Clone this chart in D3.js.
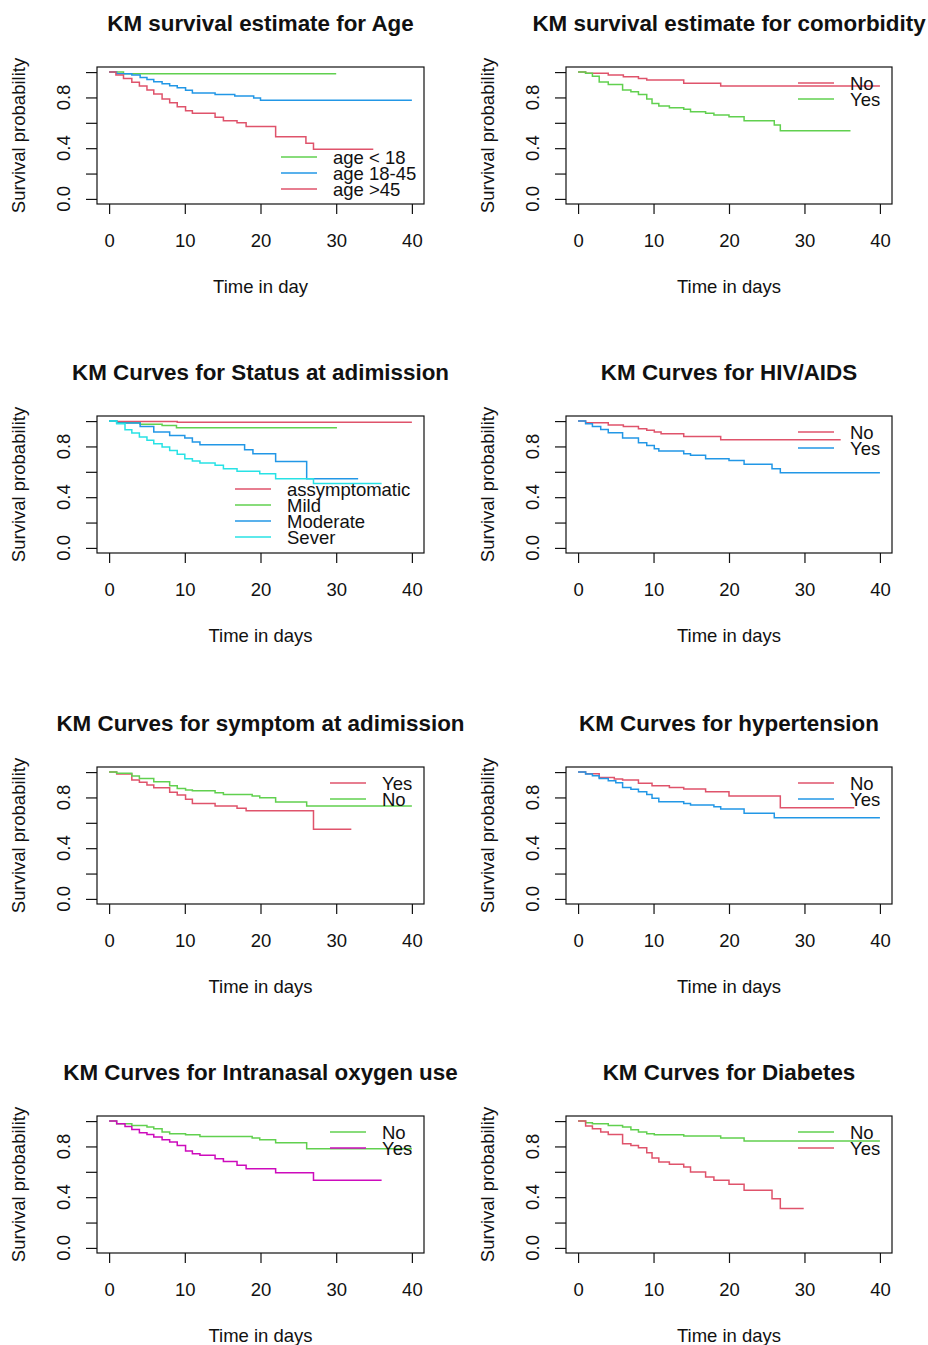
<!DOCTYPE html>
<html>
<head>
<meta charset="utf-8">
<script src="https://cdn.jsdelivr.net/npm/d3@7/dist/d3.min.js"></script>
<style>
body { margin: 0; background: #fff; }
svg { display: block; }
text { font-family: "Liberation Sans", Arial, sans-serif; fill: #111; }
</style>
</head>
<body>
<div id="chart"></div>
<script>
// KM step curves: [time, survival], last point = end of follow-up
var ageUnder18 = [[0,1],[1.9,0.987],[30,0.987]];
var age18to45 = [[0,1],[1.0,0.987],[3.0,0.976],[4.1,0.958],[5.0,0.942],[5.9,0.924],[7.0,0.908],[8.0,0.892],[9.0,0.877],[10.1,0.856],[11.0,0.835],[14.0,0.824],[16.6,0.811],[19.1,0.795],[20.0,0.777],[40,0.777]];
var ageOver45 = [[0,1],[0.9,0.976],[1.9,0.95],[3.0,0.919],[4.0,0.89],[5.0,0.858],[5.9,0.827],[7.0,0.787],[8.0,0.759],[9.0,0.727],[10.1,0.696],[11.0,0.675],[14.0,0.643],[15.1,0.617],[16.9,0.601],[18.1,0.57],[22.0,0.491],[26.0,0.438],[27.0,0.391],[34.9,0.391]];

var comorbNo = [[0,1],[1.0,0.99],[4.0,0.976],[6.0,0.963],[8.0,0.95],[9.1,0.937],[14.0,0.911],[18.9,0.89],[40,0.89]];
var comorbYes = [[0,1],[1.0,0.99],[1.9,0.968],[2.8,0.921],[4.0,0.903],[5.9,0.858],[7.0,0.845],[8.0,0.824],[9.1,0.787],[9.8,0.753],[10.7,0.732],[12.1,0.719],[14.0,0.706],[14.9,0.688],[16.9,0.675],[18.0,0.661],[20.0,0.648],[22.0,0.617],[26.0,0.583],[26.8,0.538],[36.1,0.538]];

var statusAsym = [[0,1],[1.0,0.997],[9.0,0.99],[40,0.99]];
var statusMild = [[0,1],[1.0,0.987],[4.1,0.974],[7.0,0.966],[8.9,0.948],[30.1,0.948]];
var statusModerate = [[0,1],[1.0,0.984],[4.1,0.958],[5.9,0.913],[8.0,0.887],[10.0,0.866],[11.0,0.835],[12.0,0.814],[17.9,0.774],[19.0,0.743],[22.0,0.682],[26.1,0.546],[32.9,0.546]];
var statusSevere = [[0,1],[1.0,0.979],[2.1,0.932],[3.0,0.906],[4.0,0.874],[5.0,0.848],[5.9,0.822],[7.0,0.795],[8.0,0.769],[9.0,0.738],[10.0,0.703],[11.0,0.685],[12.0,0.669],[14.0,0.651],[15.1,0.625],[16.9,0.604],[19.9,0.585],[22.0,0.546],[27.0,0.507],[36.0,0.507]];

var hivNo = [[0,1],[1.0,0.987],[4.0,0.969],[6.0,0.958],[8.0,0.94],[9.1,0.927],[10.1,0.913],[11.0,0.9],[14.0,0.879],[18.9,0.853],[34.8,0.853]];
var hivYes = [[0,1],[1.0,0.979],[1.9,0.958],[3.0,0.934],[4.0,0.908],[5.9,0.866],[8.0,0.829],[9.1,0.808],[10.1,0.782],[10.7,0.764],[14.0,0.743],[14.9,0.73],[16.9,0.703],[20.0,0.69],[22.0,0.659],[25.7,0.625],[26.8,0.593],[40,0.593]];

var symptomYes = [[0,1],[1.0,0.984],[3.0,0.937],[4.0,0.919],[5.0,0.898],[5.9,0.877],[8.0,0.84],[9.0,0.819],[10.1,0.785],[11.0,0.753],[14.0,0.732],[16.9,0.714],[18.1,0.696],[27.0,0.549],[32.0,0.549]];
var symptomNo = [[0,1],[1.0,0.99],[3.0,0.969],[4.0,0.95],[5.9,0.924],[8.0,0.892],[9.0,0.871],[10.1,0.858],[11.0,0.853],[14.0,0.837],[15.1,0.824],[18.9,0.811],[19.9,0.798],[22.0,0.764],[26.1,0.732],[40,0.732]];

var hyperNo = [[0,1],[1.0,0.987],[2.8,0.958],[4.8,0.946],[5.9,0.937],[8.0,0.911],[9.8,0.892],[12.1,0.879],[14.0,0.866],[16.9,0.845],[20.0,0.811],[26.8,0.719],[36.6,0.719]];
var hyperYes = [[0,1],[1.0,0.984],[1.9,0.971],[2.8,0.95],[4.0,0.932],[5.0,0.916],[5.9,0.879],[7.0,0.864],[8.0,0.845],[9.1,0.824],[9.8,0.793],[10.7,0.766],[14.0,0.753],[14.9,0.74],[18.0,0.727],[18.9,0.709],[22.0,0.675],[26.0,0.64],[40,0.64]];

var oxygenNo = [[0,1],[1.0,0.979],[3.0,0.966],[5.0,0.953],[5.9,0.94],[7.0,0.913],[8.0,0.9],[10.1,0.892],[12.0,0.879],[18.9,0.866],[19.9,0.853],[22.0,0.829],[26.1,0.782],[40,0.782]];
var oxygenYes = [[0,1],[1.0,0.979],[2.1,0.958],[3.0,0.934],[4.0,0.908],[5.0,0.895],[5.9,0.874],[7.0,0.853],[8.0,0.835],[9.0,0.808],[10.1,0.764],[11.0,0.743],[12.0,0.73],[14.0,0.703],[15.1,0.682],[16.9,0.651],[18.1,0.625],[22.0,0.593],[27.0,0.533],[36.0,0.533]];

var diabNo = [[0,1],[1.0,0.987],[1.9,0.979],[4.0,0.966],[5.9,0.953],[7.0,0.932],[8.0,0.913],[9.1,0.9],[10.1,0.892],[14.0,0.882],[18.9,0.866],[22.0,0.843],[40,0.843]];
var diabYes = [[0,1],[1.0,0.961],[1.9,0.94],[3.0,0.913],[4.0,0.895],[5.9,0.822],[7.0,0.808],[8.0,0.79],[9.1,0.751],[9.8,0.709],[10.7,0.677],[12.1,0.659],[14.0,0.638],[14.9,0.598],[16.9,0.559],[18.0,0.533],[20.0,0.501],[22.0,0.454],[25.7,0.388],[26.8,0.31],[29.9,0.31]];

var xTicks = [0, 10, 20, 30, 40];
var yTicks = [0, 0.2, 0.4, 0.6, 0.8, 1.0];
var yTickLabels = ["0.0", "", "0.4", "", "0.8", ""];

var RED = "#DF536B", GREEN = "#61D04F", BLUE = "#2297E6", CYAN = "#28E2E5", MAGENTA = "#CD0BBC";

var panels = [
  {title: "KM survival estimate for Age", xlab: "Time in day", row: 0, col: 0, legend: [184, 90],
   curves: [{d: ageUnder18, c: GREEN, n: "age < 18"}, {d: age18to45, c: BLUE, n: "age 18-45"}, {d: ageOver45, c: RED, n: "age >45"}]},
  {title: "KM survival estimate for comorbidity", xlab: "Time in days", row: 0, col: 1, legend: [232, 16],
   curves: [{d: comorbNo, c: RED, n: "No"}, {d: comorbYes, c: GREEN, n: "Yes"}]},
  {title: "KM Curves for Status at adimission", xlab: "Time in days", row: 1, col: 0, legend: [138, 73],
   curves: [{d: statusAsym, c: RED, n: "assymptomatic"}, {d: statusMild, c: GREEN, n: "Mild"},
            {d: statusModerate, c: BLUE, n: "Moderate"}, {d: statusSevere, c: CYAN, n: "Sever"}]},
  {title: "KM Curves for HIV/AIDS", xlab: "Time in days", row: 1, col: 1, legend: [232, 16],
   curves: [{d: hivNo, c: RED, n: "No"}, {d: hivYes, c: BLUE, n: "Yes"}]},
  {title: "KM Curves for symptom at adimission", xlab: "Time in days", row: 2, col: 0, legend: [233, 16],
   curves: [{d: symptomYes, c: RED, n: "Yes"}, {d: symptomNo, c: GREEN, n: "No"}]},
  {title: "KM Curves for hypertension", xlab: "Time in days", row: 2, col: 1, legend: [232, 16],
   curves: [{d: hyperNo, c: RED, n: "No"}, {d: hyperYes, c: BLUE, n: "Yes"}]},
  {title: "KM Curves for Intranasal oxygen use", xlab: "Time in days", row: 3, col: 0, legend: [233, 16],
   curves: [{d: oxygenNo, c: GREEN, n: "No"}, {d: oxygenYes, c: MAGENTA, n: "Yes"}]},
  {title: "KM Curves for Diabetes", xlab: "Time in days", row: 3, col: 1, legend: [232, 16],
   curves: [{d: diabNo, c: GREEN, n: "No"}, {d: diabYes, c: RED, n: "Yes"}]}
];

var W = 928, H = 1345;
var boxLeft = [97, 566], boxRight = [424, 892];
var rowTop = [67, 416, 767, 1116], boxH = 137;
var FS = 18.5;

var svg = d3.select("#chart").append("svg").attr("width", W).attr("height", H);

panels.forEach(function(p) {
  var L = boxLeft[p.col], R = boxRight[p.col], T = rowTop[p.row], B = T + boxH;
  var x = d3.scaleLinear().domain([-1.6, 41.6]).range([L, R]);
  var y = d3.scaleLinear().domain([-0.04, 1.04]).range([B, T]);
  var g = svg.append("g");

  // curves
  var line = d3.line().x(function(d){ return x(d[0]); }).y(function(d){ return y(d[1]); }).curve(d3.curveStepAfter);
  p.curves.forEach(function(c) {
    g.append("path").attr("d", line(c.d)).attr("fill", "none").attr("stroke", c.c).attr("stroke-width", 1.5);
  });

  // axes
  var xa = g.append("g").attr("transform", "translate(0," + B + ")")
    .call(d3.axisBottom(x).tickValues(xTicks).tickSize(10).tickPadding(20));
  var ya = g.append("g").attr("transform", "translate(" + L + ",0)")
    .call(d3.axisLeft(y).tickValues(yTicks).tickSize(11).tickFormat(""));
  [xa, ya].forEach(function(a) {
    a.select(".domain").remove();
    a.selectAll("line").attr("stroke", "#111").attr("stroke-width", 1.2);
  });
  xa.selectAll("text").attr("font-size", FS).attr("fill", "#111").style("font-family", "'Liberation Sans', Arial, sans-serif");

  g.selectAll(".ylab").data(yTicks).enter().append("text")
    .attr("transform", function(d){ return "translate(" + (L - 27.5) + "," + y(d) + ") rotate(-90)"; })
    .attr("text-anchor", "middle").attr("font-size", FS)
    .text(function(d, i){ return yTickLabels[i]; });

  g.append("rect").attr("x", L).attr("y", T).attr("width", R - L).attr("height", boxH)
    .attr("fill", "none").attr("stroke", "#111").attr("stroke-width", 1.2);

  // labels
  g.append("text").attr("x", (L + R) / 2).attr("y", T - 36).attr("text-anchor", "middle")
    .attr("font-size", 22.4).attr("font-weight", "bold").text(p.title);
  g.append("text").attr("x", (L + R) / 2).attr("y", B + 89).attr("text-anchor", "middle")
    .attr("font-size", FS).text(p.xlab);
  g.append("text").attr("transform", "translate(" + (L - 72.5) + "," + (T + B) / 2 + ") rotate(-90)")
    .attr("text-anchor", "middle").attr("font-size", FS).text("Survival probability");

  // legend
  var lx = L + p.legend[0], ly = T + p.legend[1];
  p.curves.forEach(function(c, i) {
    var yy = ly + i * 16;
    g.append("line").attr("x1", lx).attr("x2", lx + 36).attr("y1", yy).attr("y2", yy)
      .attr("stroke", c.c).attr("stroke-width", 1.5);
    g.append("text").attr("x", lx + 52).attr("y", yy + 6.5).attr("font-size", FS).text(c.n);
  });
});
</script>
</body>
</html>
